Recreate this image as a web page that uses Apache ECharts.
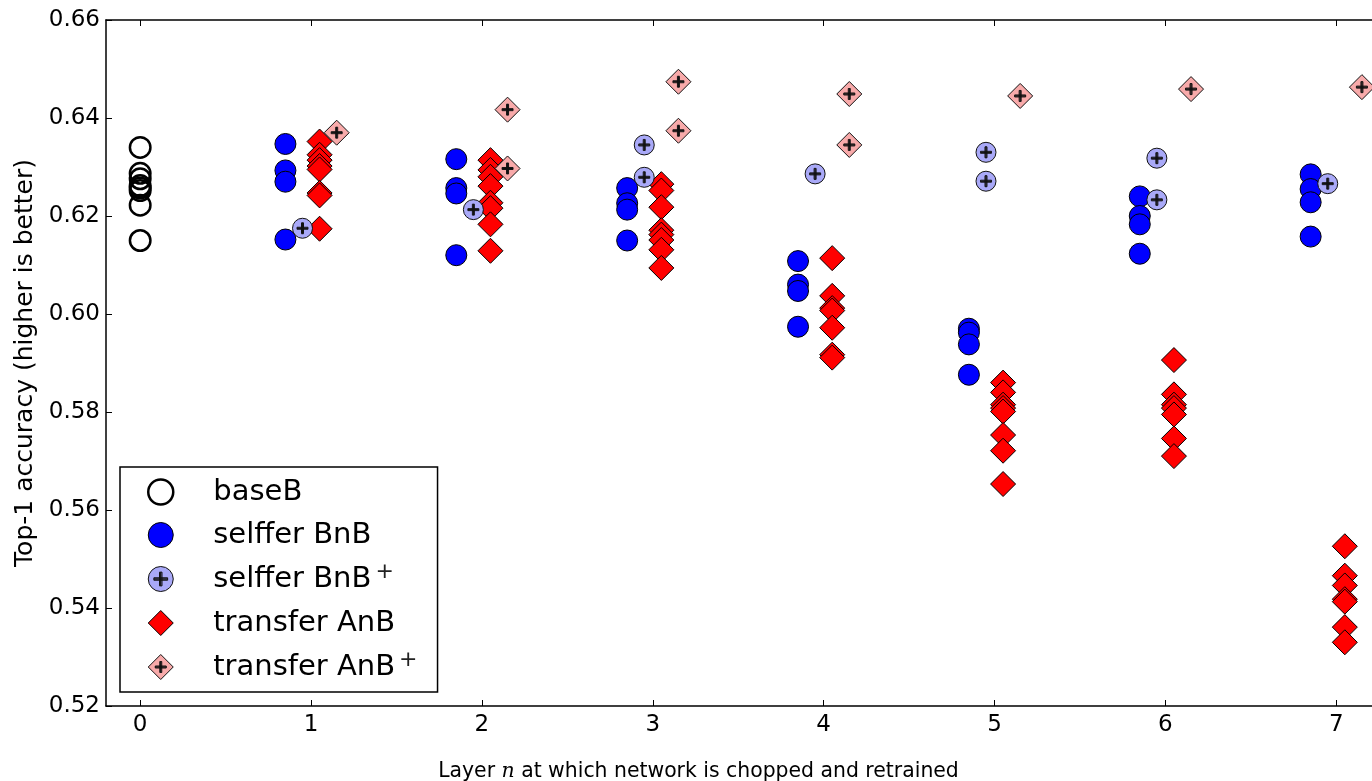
<!DOCTYPE html>
<html><head><meta charset="utf-8">
<script src="https://cdn.jsdelivr.net/npm/echarts@6/dist/echarts.min.js"></script>
<style>html,body{margin:0;padding:0;background:#fff}#c{width:1372px;height:781px}</style>
</head><body><div id="c"></div>
<script>
// ---- data ----
const xTicks = [0, 1, 2, 3, 4, 5, 6, 7];
const layers = [1, 2, 3, 4, 5, 6, 7];
// layer 0 baseline
const baseB = [0.6340, 0.6287, 0.6276, 0.6262, 0.6257, 0.6252, 0.6222, 0.6150];
// values per layer 1..7
const selfferBnB = [
  [0.6347, 0.6293, 0.6270, 0.6152],
  [0.6316, 0.6257, 0.6246, 0.6120],
  [0.6257, 0.6226, 0.6213, 0.6150],
  [0.6108, 0.6060, 0.6047, 0.5974],
  [0.5970, 0.5962, 0.5938, 0.5876],
  [0.6240, 0.6200, 0.6183, 0.6123],
  [0.6285, 0.6255, 0.6228, 0.6158]
];
const selfferBnBPlus = [
  [0.6175],
  [0.6213],
  [0.6345, 0.6279],
  [0.6286],
  [0.6330, 0.6271],
  [0.6318, 0.6233],
  [0.6266]
];
const transferAnB = [
  [0.6352, 0.6325, 0.6314, 0.6302, 0.6295, 0.6247, 0.6242, 0.6174],
  [0.6314, 0.6294, 0.6280, 0.6261, 0.6227, 0.6216, 0.6183, 0.6129],
  [0.6265, 0.6252, 0.6218, 0.6171, 0.6162, 0.6151, 0.6131, 0.6094],
  [0.6114, 0.6037, 0.6012, 0.6007, 0.5972, 0.5917, 0.5911],
  [0.5860, 0.5840, 0.5815, 0.5808, 0.5801, 0.5753, 0.5721, 0.5653],
  [0.5906, 0.5836, 0.5815, 0.5808, 0.5795, 0.5746, 0.5710],
  [0.5526, 0.5466, 0.5446, 0.5418, 0.5413, 0.5361, 0.5330]
];
const transferAnBPlus = [
  [0.6370],
  [0.6417, 0.6297],
  [0.6474, 0.6374],
  [0.6449, 0.6345],
  [0.6445],
  [0.6459],
  [0.6463]
];

// ---- build ----
function toPoints(perLayer, offset) {
  const out = [];
  perLayer.forEach((vals, i) => vals.forEach(v => out.push([layers[i] + offset, v])));
  return out;
}
const FONT = 'DejaVu Sans';
const circlePlus = 'path://M-10 0A10 10 0 1 1 10 0A10 10 0 1 1 -10 0Z M-5.5 -1H5.5V0H-5.5Z M-5.5 0H5.5V1H-5.5Z M-1 -5.5H0V5.5H-1Z M0 -5.5H1V5.5H0Z';
const diamondPlus = 'path://M0 -12.5L12.5 0L0 12.5L-12.5 0Z M-5.5 -1H5.5V0H-5.5Z M-5.5 0H5.5V1H-5.5Z M-1 -5.5H0V5.5H-1Z M0 -5.5H1V5.5H0Z';

const chart = echarts.init(document.getElementById('c'), null, {renderer: 'canvas'});
const axisCommon = {
  type: 'value', min: -0.2, max: 7.25,
  axisLine: {show: true, onZero: false, lineStyle: {color: '#000', width: 1.5}},
  axisTick: {show: true, inside: true, length: 6, customValues: xTicks, lineStyle: {color: '#000', width: 1}},
  splitLine: {show: false}
};
chart.setOption({
  animation: false,
  backgroundColor: '#fff',
  grid: {left: 106, top: 20, width: 1273, height: 686, containLabel: false, outerBoundsMode: 'none'},
  legend: {
    orient: 'vertical', left: 120, top: 467,
    padding: [8, 20, 7, 27],
    itemWidth: 25, itemHeight: 25, itemGap: 9,
    backgroundColor: '#fff', borderColor: '#000', borderWidth: 1.5, borderRadius: 0,
    selectedMode: false,
    data: [
      {name: 'baseB', itemStyle: {borderWidth: 2.5, borderColor: '#000', color: 'rgba(0,0,0,0)'}},
      {name: 'selffer BnB', itemStyle: {borderWidth: 1, borderColor: '#000'}},
      {name: 'selffer BnB+', itemStyle: {borderWidth: 1, borderColor: '#111'}},
      {name: 'transfer AnB', itemStyle: {borderWidth: 1, borderColor: '#000'}},
      {name: 'transfer AnB+', itemStyle: {borderWidth: 1, borderColor: '#111'}}
    ],
    formatter: function (name) {
      if (name.endsWith('+')) return '{t|' + name.slice(0, -1) + '}{sup|+}';
      return '{t|' + name + '}';
    },
    textStyle: {
      fontFamily: FONT, fontSize: 29, color: '#000', lineHeight: 34,
      rich: {
        t: {fontFamily: FONT, fontSize: 29, color: '#000', lineHeight: 34, padding: [0, 0, 0, 35]},
        sup: {fontFamily: FONT, fontSize: 22, color: '#222', lineHeight: 20, padding: [0, 0, 14, 4]}
      }
    }
  },
  xAxis: [
    Object.assign({}, axisCommon, {
      position: 'bottom',
      axisLabel: {show: true, customValues: xTicks, fontFamily: FONT, fontSize: 23, color: '#000', margin: 8},
      name: 'Layer {it|n} at which network is chopped and retrained',
      nameLocation: 'middle', nameGap: 56,
      nameTextStyle: {fontFamily: FONT, fontSize: 20.4, color: '#000', padding: [0, 88, 0, 0],
        rich: {it: {fontFamily: 'DejaVu Serif', fontStyle: 'italic', fontSize: 20.4, color: '#000'}}}
    }),
    Object.assign({}, axisCommon, {position: 'top', axisLabel: {show: false}})
  ],
  yAxis: {
    type: 'value', min: 0.52, max: 0.66, interval: 0.02,
    axisLine: {show: true, onZero: false, lineStyle: {color: '#000', width: 1.5}},
    axisTick: {show: true, inside: true, length: 6, lineStyle: {color: '#000', width: 1}},
    splitLine: {show: false},
    axisLabel: {formatter: v => v.toFixed(2), fontFamily: FONT, fontSize: 23, color: '#000', margin: 6},
    name: 'Top-1 accuracy (higher is better)', nameLocation: 'middle', nameGap: 58,
    nameTextStyle: {fontFamily: FONT, fontSize: 25, color: '#000'}
  },
  series: [
    {name: 'baseB', type: 'scatter', data: baseB.map(v => [0, v]), symbol: 'circle', symbolSize: 20.5,
      itemStyle: {color: 'rgba(0,0,0,0)', borderColor: '#000', borderWidth: 2.5, opacity: 1}, emphasis: {disabled: true}},
    {name: 'selffer BnB', type: 'scatter', data: toPoints(selfferBnB, -0.15), symbol: 'circle', symbolSize: 21,
      itemStyle: {color: '#0000ff', borderColor: '#000', borderWidth: 1, opacity: 1}, emphasis: {disabled: true}},
    {name: 'transfer AnB', type: 'scatter', data: toPoints(transferAnB, 0.05), symbol: 'diamond', symbolSize: 25,
      itemStyle: {color: '#ff0000', borderColor: '#000', borderWidth: 1, opacity: 1}, emphasis: {disabled: true}},
    {name: 'selffer BnB+', type: 'scatter', data: toPoints(selfferBnBPlus, -0.05), symbol: circlePlus, symbolSize: 20,
      itemStyle: {color: '#a9a9f8', borderColor: '#111', borderWidth: 1, opacity: 1}, emphasis: {disabled: true}},
    {name: 'transfer AnB+', type: 'scatter', data: toPoints(transferAnBPlus, 0.15), symbol: diamondPlus, symbolSize: 25,
      itemStyle: {color: '#f8aaaa', borderColor: '#111', borderWidth: 1, opacity: 1}, emphasis: {disabled: true}}
  ]
});
</script></body></html>
